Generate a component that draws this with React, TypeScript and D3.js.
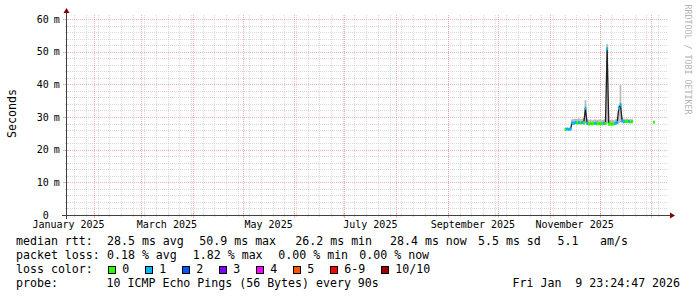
import React from 'react';
import * as d3 from 'd3';

// ---------- data ----------
const dayDates = [
  '2025-11-10', '2025-11-11', '2025-11-12', '2025-11-13', '2025-11-14', '2025-11-15', '2025-11-16',
  '2025-11-17', '2025-11-18', '2025-11-19', '2025-11-20', '2025-11-21', '2025-11-22', '2025-11-23',
  '2025-11-24', '2025-11-25', '2025-11-26', '2025-11-27', '2025-11-28', '2025-11-29', '2025-11-30',
  '2025-12-01', '2025-12-02', '2025-12-03', '2025-12-04', '2025-12-05', '2025-12-06', '2025-12-07',
  '2025-12-08', '2025-12-09', '2025-12-10', '2025-12-11', '2025-12-12', '2025-12-13', '2025-12-14',
  '2025-12-15', '2025-12-16', '2025-12-17', '2025-12-18', '2025-12-19', '2025-12-20', '2026-01-02',
];
const medianMs = [
  26.2, 26.3, 26.2, 26.3, 28.2, 28.1, 28.3,
  28.2, 28.3, 28.2, 28.3, 28.2, 32.7, 28.1,
  27.9, 28.0, 27.9, 28.0, 28.1, 27.9, 28.0,
  28.0, 27.9, 28.1, 28.0, 50.9, 27.8, 27.9,
  27.8, 27.9, 28.1, 28.3, 32.7, 33.7, 28.8,
  28.6, 28.6, 28.7, 28.6, 28.5, 28.6, 28.4,
];
const smokeMaxMs = [
  26.6, 26.7, 26.6, 26.8, 29.3, 29.4, 29.5,
  29.4, 29.6, 29.4, 29.5, 29.6, 35.2, 29.2,
  29.1, 29.3, 29.0, 29.2, 29.3, 29.1, 29.2,
  29.3, 29.1, 29.2, 29.3, 52.3, 29.0, 29.1,
  29.2, 29.0, 29.3, 29.5, 33.5, 39.8, 29.9,
  29.5, 29.4, 29.5, 29.3, 29.4, 29.3, 28.7,
];
const smokeMinMs = [
  26.0, 26.0, 26.0, 26.1, 27.7, 27.7, 27.8,
  27.7, 27.8, 27.7, 27.8, 27.7, 28.0, 27.6,
  27.5, 27.6, 27.5, 27.6, 27.6, 27.5, 27.6,
  27.6, 27.5, 27.6, 27.6, 28.0, 27.4, 27.5,
  27.4, 27.5, 27.6, 27.8, 28.0, 28.3, 28.3,
  28.2, 28.2, 28.3, 28.2, 28.1, 28.2, 28.1,
];
const lostPings = [
  0, 1, 1, 1, 1, 1, 1,
  0, 1, 0, 1, 0, 1, 1,
  0, 0, 0, 0, 1, 0, 0,
  0, 0, 1, 0, 1, 0, 0,
  0, 0, 1, 1, 1, 1, 1,
  1, 0, 0, 1, 0, 0, 0,
];

const yTickValues = [0, 10, 20, 30, 40, 50, 60];
const yTickNumbers = ['0', '10', '20', '30', '40', '50', '60'];
const yTickUnits = ['', 'm', 'm', 'm', 'm', 'm', 'm'];
const monthLabelStarts = ['2025-01-01', '2025-03-01', '2025-05-01', '2025-07-01', '2025-09-01', '2025-11-01'];
const monthLabelTexts = ['January 2025', 'March 2025', 'May 2025', 'July 2025', 'September 2025', 'November 2025'];

const lossLegendLabels = ['0', '1', '2', '3', '4', '5', '6-9', '10/10'];
const lossLegendColors = ['#26ff00', '#00b8ff', '#0059ff', '#7e00ff', '#ff00ff', '#ff5500', '#ff0000', '#a10000'];

const rttRowTexts = ['median rtt:', '28.5 ms avg', '50.9 ms max', '26.2 ms min', '28.4 ms now', '5.5 ms sd', '5.1', 'am/s'];
const lossRowTexts = ['packet loss:', '0.18 % avg', '1.82 % max', '0.00 % min', '0.00 % now'];
const probeRowTexts = ['probe:', '10 ICMP Echo Pings (56 Bytes) every 90s'];
const stampText = 'Fri Jan  9 23:24:47 2026';
const yAxisTitle = 'Seconds';
const watermarkText = 'RRDTOOL / TOBI OETIKER';

// ---------- layout ----------
const W = 697;
const H = 297;
const X0 = 66;
const X1 = 668;
const Y0 = 215;
const YTOP = 15;
const MONO = "'DejaVu Sans Mono', monospace";
const GRID = 'rgba(191,191,191,0.6)';
const MGRID = 'rgba(230,128,128,0.6)';
const AXIS = '#404040';
const ARROW = '#800000';

const rttRowX = [16, 107, 199.3, 295.3, 390, 478, 557.5, 600];
const lossRowX = [16, 107, 192.8, 278.3, 359.3];
const probeRowX = [16, 106.6];

const parse = d3.utcParse('%Y-%m-%d');

function lossColorIndex(n: number) {
  if (n <= 5) return n;
  if (n < 10) return 6;
  return 7;
}

export default function App() {
  const x = d3
    .scaleUtc()
    .domain([new Date(Date.UTC(2025, 0, 15)), new Date(Date.UTC(2026, 0, 11))])
    .range([X0, X1]);
  const y = d3.scaleLinear().domain([0, 61.22]).range([Y0, YTOP]);

  const [d0, d1] = x.domain();
  const weeks = d3.utcMonday.range(d0, d1);
  const months = d3.utcMonth.range(d0, d1);
  const minorY = d3.range(0, 61, 2).filter((v) => v % 10 !== 0);

  const px = (v: number) => Math.round(v) + 0.5;

  const pts = dayDates.map((s, i) => {
    const d = parse(s) as Date;
    const next = d3.utcDay.offset(d, 1);
    return {
      d,
      xa: x(d),
      xb: x(next),
      xc: (x(d) + x(next)) / 2,
      med: medianMs[i],
      hi: smokeMaxMs[i],
      lo: smokeMinMs[i],
      loss: lostPings[i],
    };
  });

  const runs: typeof pts[] = [];
  pts.forEach((p, i) => {
    if (i > 0 && d3.utcDay.count(pts[i - 1].d, p.d) === 1) runs[runs.length - 1].push(p);
    else runs.push([p]);
  });
  const line = d3
    .line<(typeof pts)[number]>()
    .x((p) => p.xc)
    .y((p) => y(p.med));

  const boxX: number[] = [];
  let bx = 108.3;
  lossLegendLabels.forEach((l) => {
    boxX.push(bx);
    bx += 30 + l.length * 7;
  });

  return (
    <div style={{ position: 'absolute', left: 0, top: 0, width: W, height: H, background: '#fff' }}>
      <svg width={W} height={H} viewBox={`0 0 ${W} ${H}`} style={{ display: 'block' }}>
        <rect x={0} y={0} width={W} height={H} fill="#ffffff" />

        <g shapeRendering="crispEdges" strokeWidth={1}>
          {weeks.map((w, i) => (
            <g key={'w' + i}>
              <line x1={px(x(w))} x2={px(x(w))} y1={YTOP} y2={Y0} stroke={GRID} strokeDasharray="1,1" />
              <line x1={px(x(w))} x2={px(x(w))} y1={Y0 - 1} y2={Y0 + 2} stroke={GRID} />
            </g>
          ))}
          {minorY.map((v) => (
            <g key={'my' + v}>
              <line x1={X0} x2={X1} y1={px(y(v))} y2={px(y(v))} stroke={GRID} strokeDasharray="1,1" />
              <line x1={X0 - 1} x2={X0 + 2} y1={px(y(v))} y2={px(y(v))} stroke={GRID} />
            </g>
          ))}
          {months.map((m, i) => (
            <g key={'m' + i}>
              <line x1={px(x(m))} x2={px(x(m))} y1={YTOP} y2={Y0} stroke={MGRID} strokeDasharray="1,1" />
              <line x1={px(x(m))} x2={px(x(m))} y1={Y0 - 2} y2={Y0 + 3} stroke={MGRID} />
            </g>
          ))}
          {yTickValues.map((v) => (
            <g key={'Y' + v}>
              <line x1={X0} x2={X1} y1={px(y(v))} y2={px(y(v))} stroke={MGRID} strokeDasharray="1,1" />
              <line x1={X0 - 3} x2={X0 + 2} y1={px(y(v))} y2={px(y(v))} stroke={MGRID} />
            </g>
          ))}
        </g>

        <g>
          {pts.map((p, i) => (
            <rect key={'s' + i} x={p.xa} width={p.xb - p.xa} y={y(p.hi)} height={y(p.lo) - y(p.hi)} fill="#b8b8b8" />
          ))}
        </g>
        <g fill="none" stroke="#202020" strokeWidth={1.3}>
          {runs.map((r, i) =>
            r.length > 1 ? <path key={'r' + i} d={line(r) || ''} /> : null,
          )}
        </g>
        <g>
          {pts.map((p, i) => (
            <rect
              key={'l' + i}
              x={p.xa}
              width={p.xb - p.xa + 0.2}
              y={y(p.med) - 1.5}
              height={3}
              fill={lossLegendColors[lossColorIndex(p.loss)]}
            />
          ))}
        </g>

        <g shapeRendering="crispEdges">
          <line x1={X0 - 4} x2={X1 + 4} y1={Y0 + 0.5} y2={Y0 + 0.5} stroke={AXIS} />
          <line x1={X0 + 0.5} x2={X0 + 0.5} y1={Y0 + 4} y2={YTOP - 4} stroke={AXIS} />
        </g>
        <polygon
          points={`${X1 + 2},${Y0 + 0.5 - 3} ${X1 + 2},${Y0 + 0.5 + 3} ${X1 + 7},${Y0 + 0.5}`}
          fill={ARROW}
        />
        <polygon
          points={`${X0 + 0.5 - 3},${YTOP - 2} ${X0 + 0.5 + 3},${YTOP - 2} ${X0 + 0.5},${YTOP - 7}`}
          fill={ARROW}
        />

        <g fontFamily={MONO} fontSize={10} fill="#000">
          {yTickValues.map((v, i) => (
            <g key={'yl' + v}>
              <text x={48.8} y={y(v) + 3.6} textAnchor="end">
                {yTickNumbers[i]}
              </text>
              {yTickUnits[i] ? (
                <text x={53.8} y={y(v) + 3.6}>
                  {yTickUnits[i]}
                </text>
              ) : null}
            </g>
          ))}
        </g>

        <g fontFamily={MONO} fontSize={10} fill="#000" textAnchor="middle">
          {monthLabelStarts.map((s, i) => {
            const a = parse(s) as Date;
            const b = d3.utcMonth.offset(a, 1);
            return (
              <text key={'xl' + i} x={(x(a) + x(b)) / 2} y={228}>
                {monthLabelTexts[i]}
              </text>
            );
          })}
        </g>

        <text
          transform="translate(15.5,113.5) rotate(-90)"
          fontFamily={MONO}
          fontSize={11.6}
          textAnchor="middle"
          fill="#000"
        >
          {yAxisTitle}
        </text>

        <text
          transform="translate(684.5,4.5) rotate(90)"
          fontFamily={MONO}
          fontSize={8.3}
          fill="#b4b4b4"
        >
          {watermarkText}
        </text>

        <g fontFamily={MONO} fontSize={11.6} fill="#000" style={{ whiteSpace: 'pre' }}>
          {rttRowTexts.map((t, i) => (
            <text key={'r1' + i} x={rttRowX[i]} y={245}>
              {t}
            </text>
          ))}
          {lossRowTexts.map((t, i) => (
            <text key={'r2' + i} x={lossRowX[i]} y={259}>
              {t}
            </text>
          ))}
          <text x={16} y={273}>
            loss color:
          </text>
          {lossLegendLabels.map((l, i) => (
            <g key={'lb' + i}>
              <rect
                x={boxX[i] + 0.5}
                y={266}
                width={7}
                height={7}
                fill={lossLegendColors[i]}
                stroke="#000"
                strokeWidth={1}
                shapeRendering="crispEdges"
              />
              <text x={boxX[i] + 14} y={273}>
                {l}
              </text>
            </g>
          ))}
          {probeRowTexts.map((t, i) => (
            <text key={'r4' + i} x={probeRowX[i]} y={287}>
              {t}
            </text>
          ))}
          <text x={512.5} y={287} xmlSpace="preserve">
            {stampText}
          </text>
        </g>
      </svg>
    </div>
  );
}
